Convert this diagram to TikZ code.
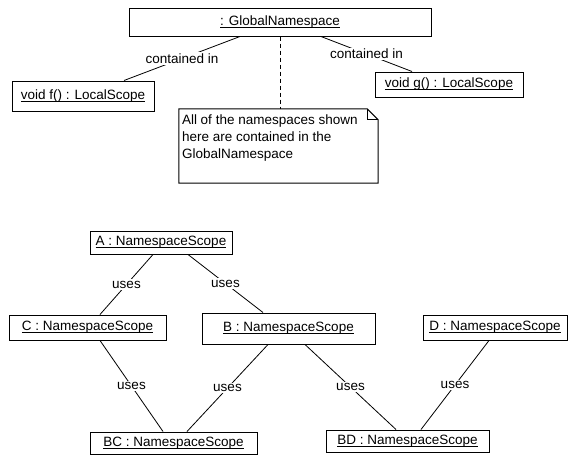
\documentclass[tikz,border=0pt]{standalone}
\usepackage{fontspec}
\setmainfont{Liberation Sans}
\usetikzlibrary{positioning}

% object name, underlined just below the baseline
\newcommand{\objname}[1]{\setbox0\hbox{#1}\rlap{\rule[-2.2pt]{\wd0}{0.8pt}}\box0}

\begin{document}
\begin{tikzpicture}[
    x=1pt, y=-1pt,
    every node/.style={font=\fontsize{13.5}{17}\selectfont},
    obj/.style={rectangle, draw, line width=1pt, inner sep=0pt, minimum height=25pt},
    link/.style={draw, line width=0.8pt},
    lab/.style={midway, fill=white, inner sep=1.5pt}]
  \useasboundingbox (0,0) rectangle (568,455);

  % global namespace and the two local scopes
  \node[obj, minimum width=302pt, minimum height=28pt] (global) at (280,22) {\objname{: GlobalNamespace}};
  \node[obj, minimum width=142pt, minimum height=30pt] (fscope) at (83,96) {\objname{void f() : LocalScope}};
  \node[obj, minimum width=148pt] (gscope) at (449,84.5) {\objname{void g() : LocalScope}};

  \draw[link] ([xshift=-40pt]global.south) -- ([xshift=41pt]fscope.north) node[lab] {contained in};
  \draw[link] ([xshift=41pt]global.south) -- ([xshift=-37pt]gscope.north) node[lab] {contained in};

  % note
  \node[minimum width=199pt, minimum height=74pt] (note) at (278.5,146) {};
  \node[anchor=north west, align=left, inner sep=0pt] (notetext) at ([shift={(3,6)}]note.north west)
    {All of the namespaces shown\\here are contained in the\\GlobalNamespace};
  \draw[line width=1pt] (note.north west) -- ([xshift=-11pt]note.north east)
    -- ([yshift=-11pt]note.north east) -- (note.south east) -- (note.south west) -- cycle;
  \draw[line width=0.8pt] ([xshift=-11pt]note.north east) |- ([yshift=-11pt]note.north east);
  \draw[link, dash pattern=on 4pt off 3pt] (global.south) -- (global.south |- note.north);

  % namespace scopes
  \node[obj, minimum width=142pt, minimum height=23pt] (A) at (161,242.5) {\objname{A : NamespaceScope}};
  \node[obj, minimum width=157pt] (C) at (87.5,327.5) {\objname{C : NamespaceScope}};
  \node[obj, minimum width=173pt, minimum height=31pt] (B) at (288.5,328.5) {\objname{B : NamespaceScope}};
  \node[obj, minimum width=144pt] (D) at (495,327.5) {\objname{D : NamespaceScope}};
  \node[obj, minimum width=167pt, minimum height=22pt] (BC) at (173.5,443) {\objname{BC : NamespaceScope}};
  \node[obj, minimum width=163pt, minimum height=22pt] (BD) at (407.5,441) {\objname{BD : NamespaceScope}};

  \draw[link] ([xshift=-8pt]A.south) -- ([xshift=12.5pt]C.north) node[lab] {uses};
  \draw[link] ([xshift=27pt]A.south) -- ([xshift=-25.5pt]B.north) node[lab] {uses};
  \draw[link] ([xshift=12.5pt]C.south) -- ([xshift=-10.5pt]BC.north) node[lab] {uses};
  \draw[link] ([xshift=-20.5pt]B.south) -- ([xshift=13.5pt]BC.north) node[lab] {uses};
  \draw[link] ([xshift=16.5pt]B.south) -- ([xshift=-11.5pt]BD.north) node[lab] {uses};
  \draw[link] ([xshift=-6pt]D.south) -- ([xshift=13.5pt]BD.north) node[lab] {uses};
\end{tikzpicture}
\end{document}
